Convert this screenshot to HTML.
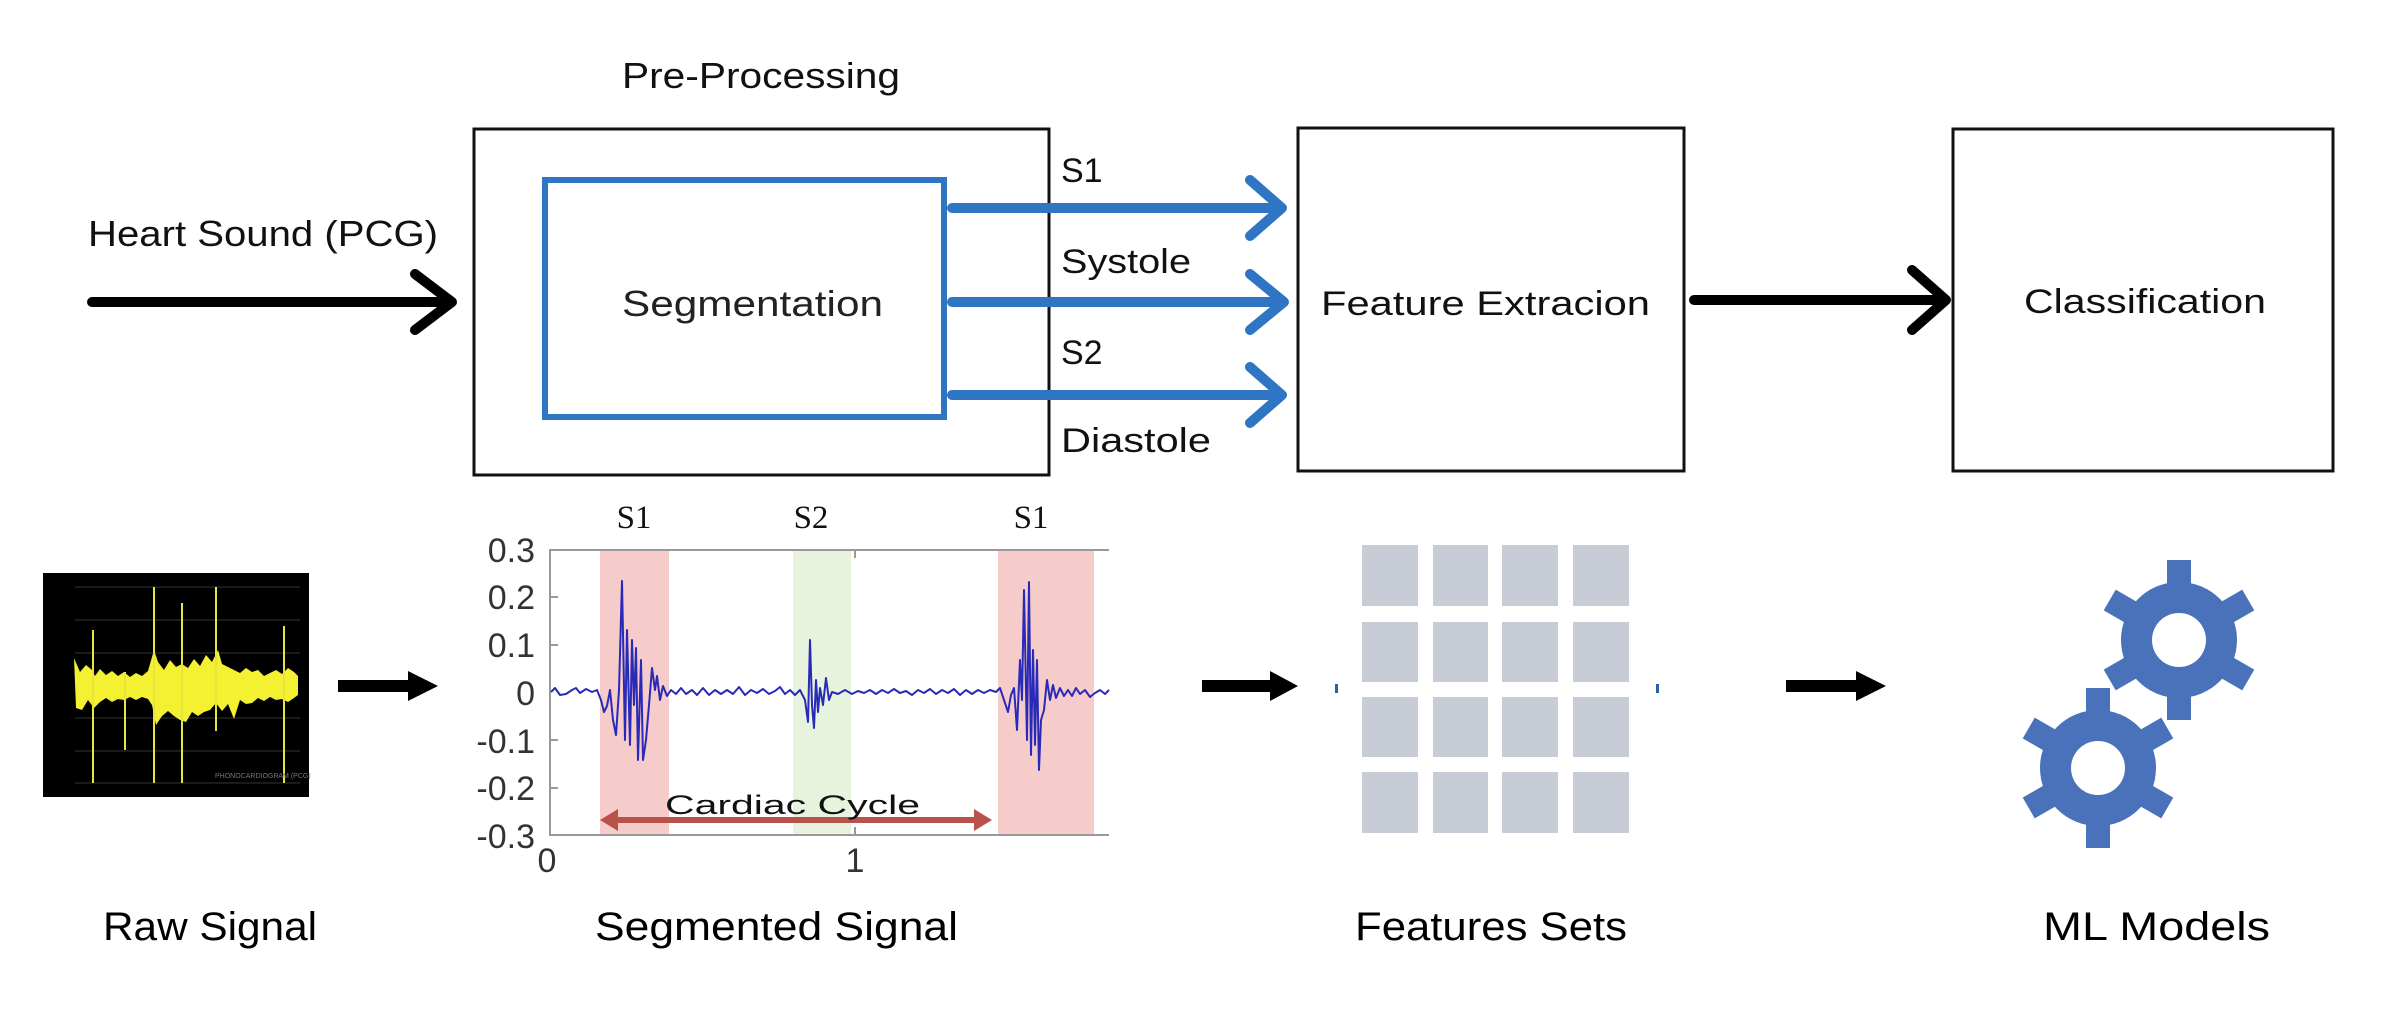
<!DOCTYPE html>
<html><head><meta charset="utf-8"><style>
html,body{margin:0;padding:0;background:#fff;}
svg{display:block;}
text{font-family:"Liberation Sans",sans-serif;}
</style></head><body>
<svg width="2386" height="1015" viewBox="0 0 2386 1015" xmlns="http://www.w3.org/2000/svg">
<rect width="2386" height="1015" fill="#fff"/>
<text x="622" y="88" font-size="36" textLength="278" lengthAdjust="spacingAndGlyphs" fill="#111">Pre-Processing</text>
<rect x="474" y="129" width="575" height="346" fill="none" stroke="#111" stroke-width="3"/>
<rect x="545" y="180" width="399" height="237" fill="none" stroke="#2e75c3" stroke-width="6"/>
<text x="622" y="316" font-size="36" textLength="261" lengthAdjust="spacingAndGlyphs" fill="#222">Segmentation</text>
<text x="88" y="246" font-size="36" textLength="350" lengthAdjust="spacingAndGlyphs" fill="#111">Heart Sound (PCG)</text>
<g stroke="#000" stroke-width="10" stroke-linecap="round" fill="none" stroke-linejoin="round">
<line x1="92" y1="302" x2="450" y2="302"/>
<polyline points="415,274 452,302 415,330"/>
<line x1="1694" y1="300" x2="1942" y2="300"/>
<polyline points="1912,270 1946,300 1912,330"/>
</g>
<g stroke="#2e75c3" stroke-width="10" stroke-linecap="round" fill="none" stroke-linejoin="round">
<line x1="952" y1="208" x2="1280" y2="208"/>
<polyline points="1250,180 1282,208 1250,236"/>
<line x1="952" y1="302" x2="1280" y2="302"/>
<polyline points="1250,274 1284,302 1250,330"/>
<line x1="952" y1="395" x2="1280" y2="395"/>
<polyline points="1250,367 1282,395 1250,423"/>
</g>
<text x="1061" y="182" font-size="34" fill="#111">S1</text>
<text x="1061" y="273" font-size="34" textLength="130" lengthAdjust="spacingAndGlyphs" fill="#111">Systole</text>
<text x="1061" y="364" font-size="34" fill="#111">S2</text>
<text x="1061" y="452" font-size="34" textLength="150" lengthAdjust="spacingAndGlyphs" fill="#111">Diastole</text>
<rect x="1298" y="128" width="386" height="343" fill="none" stroke="#111" stroke-width="3"/>
<text x="1321" y="315" font-size="34" textLength="329" lengthAdjust="spacingAndGlyphs" fill="#111">Feature Extracion</text>
<rect x="1953" y="129" width="380" height="342" fill="none" stroke="#111" stroke-width="3"/>
<text x="2024" y="313" font-size="34" textLength="242" lengthAdjust="spacingAndGlyphs" fill="#111">Classification</text>

<rect x="43" y="573" width="266" height="224" fill="#000"/>
<g stroke="#333" stroke-width="1">
<line x1="75" y1="587" x2="300" y2="587"/><line x1="75" y1="620" x2="300" y2="620"/><line x1="75" y1="653" x2="300" y2="653"/>
<line x1="75" y1="718" x2="300" y2="718"/><line x1="75" y1="751" x2="300" y2="751"/><line x1="75" y1="783" x2="300" y2="783"/>
</g>
<path d="M74,658 L80,672 L86,665 L92,670 L95,676 L100,669 L106,675 L112,671 L118,676 L124,672 L130,677 L136,673 L142,676 L148,671 L154,650 L158,662 L164,670 L170,660 L176,667 L182,664 L188,668 L194,659 L200,666 L206,655 L212,662 L218,650 L222,664 L228,667 L234,670 L240,673 L246,668 L252,672 L258,670 L264,676 L270,673 L276,670 L282,674 L288,668 L294,672 L298,676 L298,695 L294,698 L288,702 L282,699 L276,700 L270,697 L264,701 L258,698 L252,703 L246,704 L240,700 L234,719 L228,704 L222,711 L216,703 L210,710 L204,712 L198,716 L192,712 L186,722 L180,720 L174,716 L168,711 L162,716 L156,725 L152,705 L148,699 L142,697 L136,700 L130,697 L124,700 L118,699 L112,702 L106,698 L100,702 L94,708 L88,700 L82,710 L76,708 Z" fill="#f4f032"/>
<g stroke="#e8e43a" stroke-width="2">
<line x1="93" y1="630" x2="93" y2="783"/><line x1="154" y1="587" x2="154" y2="783"/><line x1="182" y1="603" x2="182" y2="783"/><line x1="216" y1="587" x2="216" y2="731"/><line x1="284" y1="626" x2="284" y2="783"/><line x1="125" y1="672" x2="125" y2="750"/>
</g>
<text x="215" y="778" font-size="7" fill="#777">PHONOCARDIOGRAM (PCG)</text>

<g fill="#000">
<rect x="338" y="680" width="70" height="12"/><polygon points="408,671 438,686 408,701"/>
<rect x="1202" y="680" width="68" height="12"/><polygon points="1270,671 1298,686 1270,701"/>
<rect x="1786" y="680" width="70" height="12"/><polygon points="1856,671 1886,686 1856,701"/>
</g>

<rect x="600" y="550" width="69" height="285" fill="#f6cccb"/>
<rect x="793" y="550" width="58" height="285" fill="#e8f3de"/>
<rect x="998" y="550" width="96" height="285" fill="#f6cccb"/>
<g stroke="#999" stroke-width="2" fill="none">
<polyline points="1109,550 550,550 550,835 1109,835"/>
<line x1="550" y1="597" x2="558" y2="597"/><line x1="550" y1="645" x2="558" y2="645"/><line x1="550" y1="740" x2="558" y2="740"/><line x1="550" y1="788" x2="558" y2="788"/>
<line x1="855" y1="550" x2="855" y2="558"/><line x1="855" y1="827" x2="855" y2="835"/>
</g>
<g font-size="34" fill="#333" text-anchor="end">
<text x="535" y="562">0.3</text><text x="535" y="609">0.2</text><text x="535" y="657">0.1</text><text x="535" y="705">0</text><text x="535" y="753">-0.1</text><text x="535" y="800">-0.2</text><text x="535" y="848">-0.3</text>
</g>
<text x="547" y="872" font-size="34" fill="#333" text-anchor="middle">0</text>
<text x="855" y="872" font-size="34" fill="#333" text-anchor="middle">1</text>
<g font-size="33" fill="#111" text-anchor="middle">
<text x="634" y="528" style="font-family:'Liberation Serif',serif">S1</text>
<text x="811" y="528" style="font-family:'Liberation Serif',serif">S2</text>
<text x="1031" y="528" style="font-family:'Liberation Serif',serif">S1</text>
</g>
<polyline fill="none" stroke="#2a2ab8" stroke-width="2" stroke-linejoin="round" points="551,692 555,688 560,695 566,694 572,690 576,688 580,693 586,689 592,692 597,690 601,700 604,712 607,706 610,690 613,720 616,735 619,690 622,581 625,740 627,630 630,745 632,640 634,705 636,648 638,760 641,660 643,760 646,740 649,705 652,668 655,690 657,676 660,700 663,686 667,696 671,690 676,694 681,688 686,694 692,690 697,695 703,688 709,695 715,690 721,694 727,690 733,694 739,687 745,695 751,690 757,693 763,689 769,694 775,691 780,687 785,694 790,690 795,695 800,690 805,700 808,722 810,640 812,705 814,728 816,680 818,712 820,688 823,705 826,678 829,700 832,692 838,694 845,690 852,694 858,691 864,693 870,690 876,694 882,690 888,693 894,689 900,693 906,691 912,695 918,690 924,693 930,689 936,694 942,690 948,693 954,689 960,695 966,690 972,694 978,690 984,693 990,690 996,692 1000,688 1004,700 1008,712 1011,695 1014,688 1017,730 1020,660 1022,700 1024,590 1027,740 1029,582 1031,755 1033,650 1035,745 1037,660 1039,770 1041,720 1044,710 1047,680 1050,700 1053,685 1056,698 1060,688 1064,696 1068,690 1072,696 1076,688 1080,694 1085,690 1090,697 1095,693 1100,690 1105,694 1109,690"/>
<line x1="612" y1="820" x2="980" y2="820" stroke="#b9524a" stroke-width="6"/>
<polygon points="600,820 618,809 618,831" fill="#b9524a"/>
<polygon points="992,820 974,809 974,831" fill="#b9524a"/>
<text x="665" y="814" font-size="27" textLength="255" lengthAdjust="spacingAndGlyphs" fill="#111">Cardiac Cycle</text>

<g fill="#c7ccd6">
<rect x="1362" y="545" width="56" height="61"/><rect x="1433" y="545" width="55" height="61"/><rect x="1502" y="545" width="56" height="61"/><rect x="1573" y="545" width="56" height="61"/>
<rect x="1362" y="622" width="56" height="60"/><rect x="1433" y="622" width="55" height="60"/><rect x="1502" y="622" width="56" height="60"/><rect x="1573" y="622" width="56" height="60"/>
<rect x="1362" y="697" width="56" height="60"/><rect x="1433" y="697" width="55" height="60"/><rect x="1502" y="697" width="56" height="60"/><rect x="1573" y="697" width="56" height="60"/>
<rect x="1362" y="772" width="56" height="61"/><rect x="1433" y="772" width="55" height="61"/><rect x="1502" y="772" width="56" height="61"/><rect x="1573" y="772" width="56" height="61"/>
</g>
<rect x="1335" y="684" width="3" height="9" fill="#2e5fa0"/><rect x="1656" y="684" width="3" height="9" fill="#2e5fa0"/>

<defs>
<g id="gear">
<circle r="58" fill="#4a72bb"/>
<g fill="#4a72bb">
<rect x="-12" y="-80" width="24" height="32"/>
<rect x="-12" y="-80" width="24" height="32" transform="rotate(60)"/>
<rect x="-12" y="-80" width="24" height="32" transform="rotate(120)"/>
<rect x="-12" y="-80" width="24" height="32" transform="rotate(180)"/>
<rect x="-12" y="-80" width="24" height="32" transform="rotate(240)"/>
<rect x="-12" y="-80" width="24" height="32" transform="rotate(300)"/>
</g>
<ellipse rx="27" ry="27" fill="#fff"/>
</g>
</defs>
<use href="#gear" x="2179" y="640"/>
<use href="#gear" x="2098" y="768"/>

<text x="103" y="940" font-size="40" textLength="214" lengthAdjust="spacingAndGlyphs" fill="#000">Raw Signal</text>
<text x="595" y="940" font-size="40" textLength="363" lengthAdjust="spacingAndGlyphs" fill="#000">Segmented Signal</text>
<text x="1355" y="940" font-size="40" textLength="272" lengthAdjust="spacingAndGlyphs" fill="#000">Features Sets</text>
<text x="2043" y="940" font-size="40" textLength="227" lengthAdjust="spacingAndGlyphs" fill="#000">ML Models</text>
</svg>
</body></html>
